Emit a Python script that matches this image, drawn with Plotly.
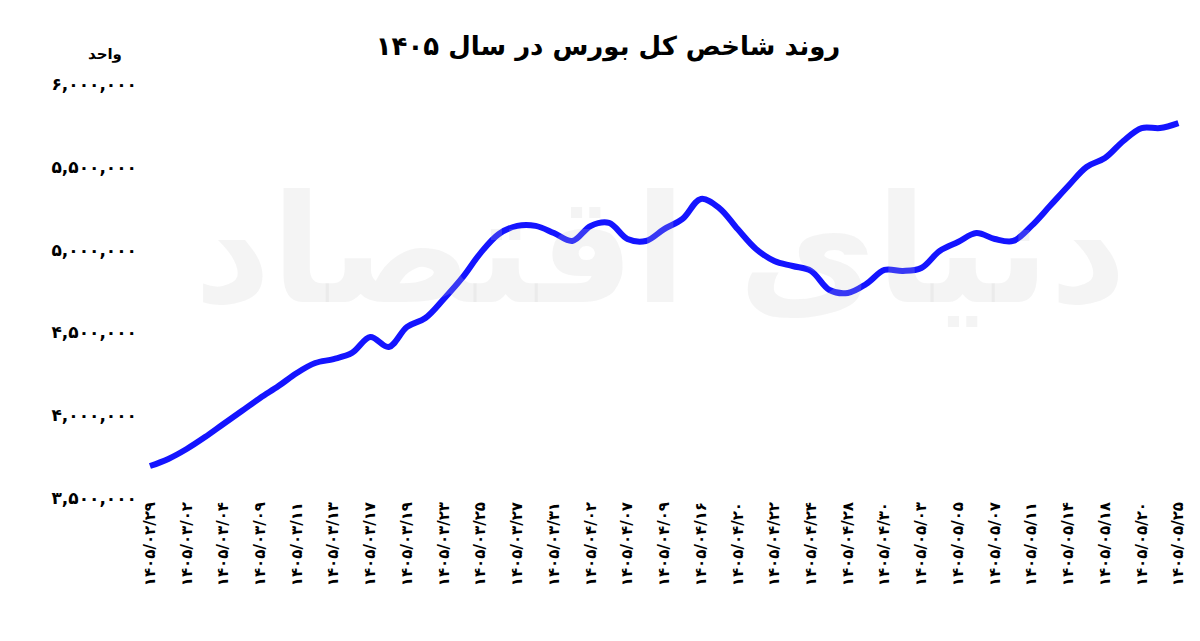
import plotly.graph_objects as go

fa = str.maketrans('0123456789', '۰۱۲۳۴۵۶۷۸۹')

# tick labels (every other point carries a label)
dates = ['1405/02/29', '1405/03/02', '1405/03/04', '1405/03/09', '1405/03/11',
         '1405/03/13', '1405/03/17', '1405/03/19', '1405/03/23', '1405/03/25',
         '1405/03/27', '1405/03/31', '1405/04/02', '1405/04/07', '1405/04/09',
         '1405/04/16', '1405/04/20', '1405/04/22', '1405/04/24', '1405/04/28',
         '1405/04/30', '1405/05/03', '1405/05/05', '1405/05/07', '1405/05/11',
         '1405/05/14', '1405/05/18', '1405/05/20', '1405/05/25']

index_values = [3693000, 3736000, 3796000, 3868000, 3947000, 4025000, 4104000, 4176000,
                4255000, 4315000, 4339000, 4376000, 4472000, 4412000, 4533000, 4587000,
                4702000, 4829000, 4979000, 5094000, 5143000, 5143000, 5100000, 5052000,
                5143000, 5161000, 5064000, 5052000, 5124000, 5185000, 5306000, 5251000,
                5124000, 5004000, 4931000, 4901000, 4871000, 4756000, 4738000, 4792000,
                4877000, 4871000, 4889000, 4992000, 5046000, 5100000, 5064000, 5052000,
                5143000, 5263000, 5384000, 5499000, 5553000, 5656000, 5734000, 5734000,
                5764000]

y_ticks = [3500000, 4000000, 4500000, 5000000, 5500000, 6000000]

x = list(range(len(index_values)))

fig = go.Figure()
fig.add_trace(go.Scatter(
    x=x, y=index_values, mode='lines',
    line=dict(color='#1414ff', width=6, shape='spline', smoothing=1.0),
    hoverinfo='skip', showlegend=False,
))

font_main = 'DejaVu Sans'

fig.update_layout(
    width=1200, height=641,
    paper_bgcolor='white', plot_bgcolor='white',
    margin=dict(l=130, r=25, t=76, b=151),
    title=dict(text='<b>روند شاخص کل بورس در سال ' + '1405'.translate(fa) + '</b>',
               x=0.5, y=0.955, xanchor='center',
               font=dict(family=font_main, size=26, color='black')),
    xaxis=dict(range=[-0.65, 56.25], showgrid=False, zeroline=False,
               tickvals=x[::2], ticktext=['<b>' + d.translate(fa) + '</b>' for d in dates],
               tickangle=-90, ticks='',
               tickfont=dict(family=font_main, size=15, color='black')),
    yaxis=dict(range=[3500000, 6000000], showgrid=False, zeroline=False,
               tickvals=y_ticks, ticktext=['<b>' + f'{v:,}'.translate(fa) + '</b>' for v in y_ticks],
               tickfont=dict(family=font_main, size=17, color='black')),
    annotations=[
        dict(text='<b>واحد</b>', x=-0.05, y=1.1, xref='paper', yref='paper', showarrow=False,
             font=dict(family=font_main, size=15, color='black')),
        dict(text='<b>دنیای اقتصاد</b>', x=0.5, y=0.6, xref='paper', yref='paper',
             showarrow=False, font=dict(family=font_main, size=150, color='rgba(200,200,200,0.2)')),
    ],
)

fig.write_html('out.html')
